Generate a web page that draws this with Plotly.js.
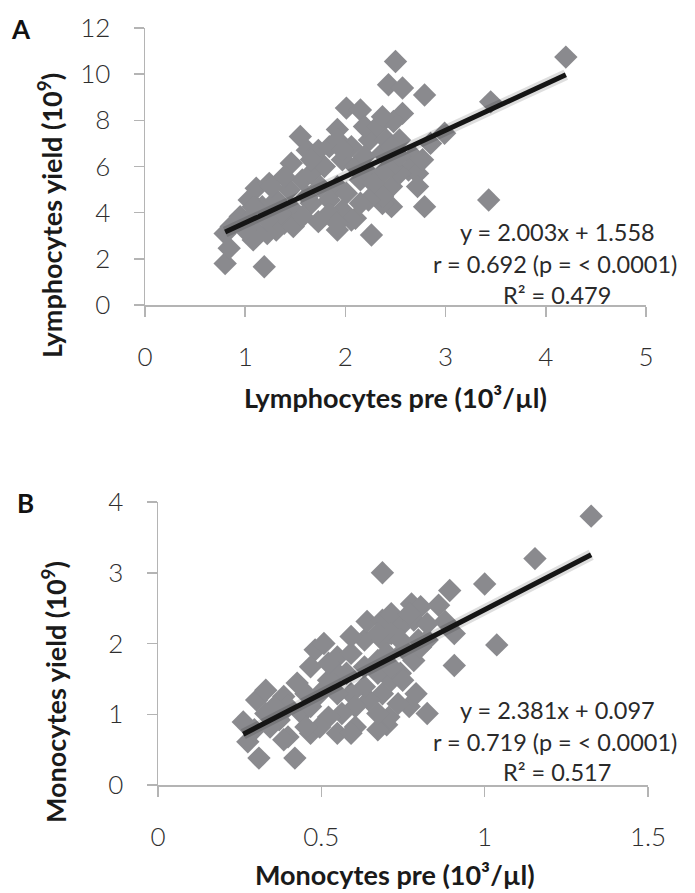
<!DOCTYPE html>
<html>
<head>
<meta charset="utf-8">
<script src="https://cdn.plot.ly/plotly-3.0.1.min.js"></script>
<style>html,body{margin:0;padding:0;background:#fff}#chart{width:695px;height:893px}</style>
</head>
<body>
<div id="chart"></div>
<script>
// ---------- Panel A: Lymphocytes ----------
const lymphPre = [4.2,2.5,2.43,2.57,2.79,3.45,2.01,2.15,2.57,2.48,1.55,2.99,2.85,1.92,1.46,1.62,1.73,1.84,2.68,2.63,2.72,3.43,2.79,2.26,1.92,1.19,0.8,0.84,0.8,0.95,1.11,1.24,1.73,2.1,1.97,2.46,2.37,2.33,2.46,2.54,2.46,2.37,2.24,2.19,2.32,2.37,2.06,1.97,2.1,1.92,2.01,1.84,1.66,1.48,1.39,1.31,1.13,1.08,1.22,1.04,1.17,1.31,1.44,1.57,1.66,1.79,1.75,1.62,1.35,1.22,1.0,0.86,1.48,1.57,1.84,2.15,2.23,2.19,1.92,1.97,1.66,1.39,1.26,1.04,1.08,2.41,2.54,2.46,2.54,2.77,2.37,2.28,2.37,2.23,2.15,2.06,1.92,2.72];
const lymphYield = [10.74,10.55,9.54,9.4,9.1,8.8,8.53,8.45,8.3,7.95,7.3,7.44,7.0,7.6,6.14,6.7,6.7,6.86,6.43,5.85,5.7,4.55,4.26,3.03,3.25,1.66,1.8,2.46,3.1,3.83,5.06,5.27,3.61,3.76,4.1,4.26,4.4,4.84,5.13,5.7,6.0,6.58,7.15,7.73,7.73,8.16,6.86,6.29,6.0,5.13,4.84,4.55,4.41,4.12,3.54,3.25,3.1,2.82,3.1,3.68,4.26,4.55,4.99,5.42,5.71,6.0,5.13,4.7,3.97,3.68,3.25,3.4,3.4,3.83,3.97,5.42,5.71,6.43,7.15,6.72,6.29,5.56,5.13,4.55,4.26,7.15,7.15,6.86,6.43,6.29,5.71,5.27,4.7,4.55,4.41,3.68,3.54,5.13];
const lymphSlope = 2.003, lymphIntercept = 1.558;
const lymphStats = ["y = 2.003x + 1.558", "r = 0.692 (p = < 0.0001)", "R² = 0.479"];
const lymphXTicks = [0,1,2,3,4,5];
const lymphYTicks = [0,2,4,6,8,10,12];

// ---------- Panel B: Monocytes ----------
const monoPre = [1.326,1.154,0.687,1.0,0.893,0.859,0.776,0.804,0.879,0.907,1.037,0.907,0.824,0.769,0.79,0.70,0.673,0.707,0.309,0.419,0.275,0.261,0.295,0.302,0.33,0.385,0.371,0.398,0.467,0.549,0.44,0.495,0.481,0.508,0.549,0.467,0.426,0.549,0.591,0.632,0.64,0.687,0.714,0.742,0.687,0.714,0.755,0.797,0.783,0.742,0.714,0.687,0.646,0.632,0.591,0.604,0.563,0.522,0.495,0.467,0.398,0.357,0.33,0.549,0.577,0.632,0.673,0.673,0.70,0.714,0.749,0.735,0.673,0.604,0.591,0.453,0.385,0.343,0.453,0.522,0.522,0.591,0.673,0.742,0.783,0.824,0.804,0.824,0.769];
const monoYield = [3.80,3.20,3.0,2.84,2.75,2.54,2.56,2.52,2.31,2.14,1.98,1.69,1.01,1.11,1.29,0.85,0.78,0.96,0.38,0.38,0.61,0.89,0.78,1.2,1.34,1.25,0.92,0.68,0.73,0.73,1.01,1.29,1.91,2.0,1.81,1.67,1.44,1.58,1.86,2.05,2.31,2.33,2.42,2.24,2.05,2.14,1.91,2.05,1.76,1.58,1.48,1.29,1.2,1.39,1.29,1.11,1.01,0.96,0.82,1.11,1.11,1.11,1.01,1.29,1.58,1.67,1.76,1.58,1.86,1.67,1.48,1.15,1.01,0.82,0.73,0.82,0.64,0.82,1.29,1.48,1.72,2.1,2.14,2.05,2.33,2.05,1.95,2.28,2.42];
const monoSlope = 2.381, monoIntercept = 0.097;
const monoStats = ["y = 2.381x + 0.097", "r = 0.719 (p = < 0.0001)", "R² = 0.517"];
const monoXTicks = [0,0.5,1,1.5];
const monoYTicks = [0,1,2,3,4];

// ---------- helpers ----------
const W = 695, H = 893;
const px = v => v / W;
const py = v => 1 - v / H;
const FONT = "Lato, 'Open Sans', sans-serif";
const MARK = '#8a8a8e';
const AXC = '#b4b4b4';

function fitLine(xs, slope, intercept) {
  const lo = Math.min(...xs), hi = Math.max(...xs);
  return {x: [lo, hi], y: [slope * lo + intercept, slope * hi + intercept]};
}

function scatter(xs, ys, xa, ya) {
  return {x: xs, y: ys, xaxis: xa, yaxis: ya, type: 'scatter', mode: 'markers',
    marker: {symbol: 'diamond', size: 18, color: MARK, line: {width: 0}},
    cliponaxis: false, hoverinfo: 'skip', showlegend: false};
}
function trend(xs, s, b, xa, ya, shadow) {
  const f = fitLine(xs, s, b);
  return {x: f.x, y: f.y, xaxis: xa, yaxis: ya, type: 'scatter', mode: 'lines',
    line: shadow ? {color: 'rgba(0,0,0,0.13)', width: 11} : {color: '#151515', width: 5},
    cliponaxis: false, hoverinfo: 'skip', showlegend: false};
}

const data = [
  scatter(lymphPre, lymphYield, 'x', 'y'),
  trend(lymphPre, lymphSlope, lymphIntercept, 'x', 'y', true),
  trend(lymphPre, lymphSlope, lymphIntercept, 'x', 'y', false),
  scatter(monoPre, monoYield, 'x2', 'y2'),
  trend(monoPre, monoSlope, monoIntercept, 'x2', 'y2', true),
  trend(monoPre, monoSlope, monoIntercept, 'x2', 'y2', false)
];

function axis(extra) {
  return Object.assign({
    showline: true, linecolor: AXC, linewidth: 1.5, showgrid: false, zeroline: false,
    ticks: 'outside', ticklen: 10, tickwidth: 1.5, tickcolor: AXC,
    tickfont: {family: FONT, size: 26, color: '#2e2e2e', weight: 300}, ticklabelstandoff: 18,
    tickmode: 'array', fixedrange: true
  }, extra);
}

const TXT = {family: FONT, size: 23.5, color: '#2a2a2a'};
const TITLE = {family: FONT, size: 27, color: '#1a1a1a', weight: 'bold'};

function ann(text, x, y, font, extra) {
  return Object.assign({text: text, xref: 'paper', yref: 'paper', x: px(x), y: py(y),
    xanchor: 'center', yanchor: 'middle', showarrow: false, font: font}, extra || {});
}

const annotations = [
  ann('<b>A</b>', 21, 29, {family: FONT, size: 26, color: '#111'}),
  ann('<b>B</b>', 25, 503, {family: FONT, size: 26, color: '#111'}),
  ann('<b>Lymphocytes pre (10³/µl)</b>', 395, 397, TITLE),
  ann('<b>Lymphocytes yield (10<sup>9</sup>)</b>', 50, 216, TITLE, {textangle: -90}),
  ann('<b>Monocytes pre (10³/µl)</b>', 395, 874, TITLE),
  ann('<b>Monocytes yield (10<sup>9</sup>)</b>', 54, 692, TITLE, {textangle: -90}),
  ann(lymphStats[0], 557, 232, TXT),
  ann(lymphStats[1], 555, 264, TXT),
  ann(lymphStats[2], 557, 295, TXT),
  ann(monoStats[0], 557, 710, TXT),
  ann(monoStats[1], 555, 742, TXT),
  ann(monoStats[2], 557, 772, TXT)
];

const layout = {
  width: W, height: H, margin: {l: 0, r: 0, t: 0, b: 0},
  paper_bgcolor: '#fff', plot_bgcolor: 'rgba(0,0,0,0)', showlegend: false,
  xaxis: axis({domain: [px(145), px(646)], range: [0, 5], anchor: 'y',
    tickvals: lymphXTicks, ticktext: lymphXTicks.map(String)}),
  yaxis: axis({domain: [py(305), py(28)], range: [0, 12], anchor: 'x',
    tickvals: lymphYTicks, ticktext: lymphYTicks.map(String)}),
  xaxis2: axis({domain: [px(158), px(648)], range: [0, 1.5], anchor: 'y2',
    tickvals: monoXTicks, ticktext: monoXTicks.map(String)}),
  yaxis2: axis({domain: [py(785), py(502)], range: [0, 4], anchor: 'x2',
    tickvals: monoYTicks, ticktext: monoYTicks.map(String)}),
  annotations: annotations
};

Plotly.newPlot('chart', data, layout, {staticPlot: true, displayModeBar: false});
</script>
</body>
</html>
